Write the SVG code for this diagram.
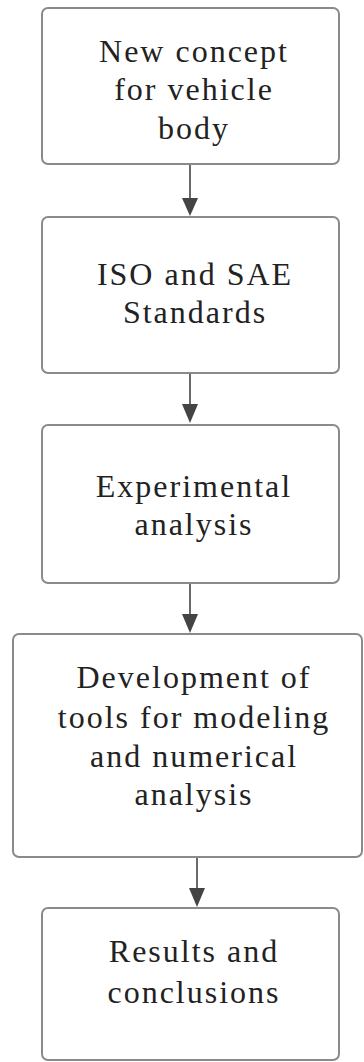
<svg xmlns="http://www.w3.org/2000/svg" width="364" height="1062" viewBox="0 0 364 1062">
<style>
.box{fill:#fff;stroke:#8a8a8a;stroke-width:2}
.c{stroke:#444;stroke-width:1.6;fill:none}
text{font-family:'Liberation Serif','Times New Roman',Times,'DejaVu Serif','Noto Serif',Georgia,serif}
</style>
<rect width="364" height="1062" fill="#fff"/>
<g id="connectors">
<path class="c" d="M190,164 V198"/><path d="M182,198 L198,198 L190,216 z" fill="#444"/>
<path class="c" d="M190,373 V404"/><path d="M182,404 L198,404 L190,423 z" fill="#444"/>
<path class="c" d="M190,583 V614"/><path d="M182,614 L198,614 L190,633 z" fill="#444"/>
<path class="c" d="M197,857 V888"/><path d="M189,888 L205,888 L197,907 z" fill="#444"/>
</g>
<g font-size="32" letter-spacing="2" fill="#222" text-anchor="middle">
<g id="n1">
<rect class="box" x="42" y="8" width="297" height="156" rx="6"/>
<text x="194" y="62">New concept</text>
<text x="194" y="100">for vehicle</text>
<text x="194" y="139">body</text>
</g>
<g id="n2">
<rect class="box" x="42" y="217" width="297" height="156" rx="6"/>
<text x="195" y="285">ISO and SAE</text>
<text x="195" y="323">Standards</text>
</g>
<g id="n3">
<rect class="box" x="42" y="425" width="297" height="158" rx="6"/>
<text x="194" y="497">Experimental</text>
<text x="194" y="535">analysis</text>
</g>
<g id="n4">
<rect class="box" x="13" y="634" width="349" height="223" rx="6"/>
<text x="194" y="688">Development of</text>
<text x="194" y="728">tools for modeling</text>
<text x="194" y="767">and numerical</text>
<text x="194" y="805">analysis</text>
</g>
<g id="n5">
<rect class="box" x="42" y="908" width="297" height="152" rx="6"/>
<text x="194" y="962">Results and</text>
<text x="194" y="1003">conclusions</text>
</g>
</g>
</svg>
